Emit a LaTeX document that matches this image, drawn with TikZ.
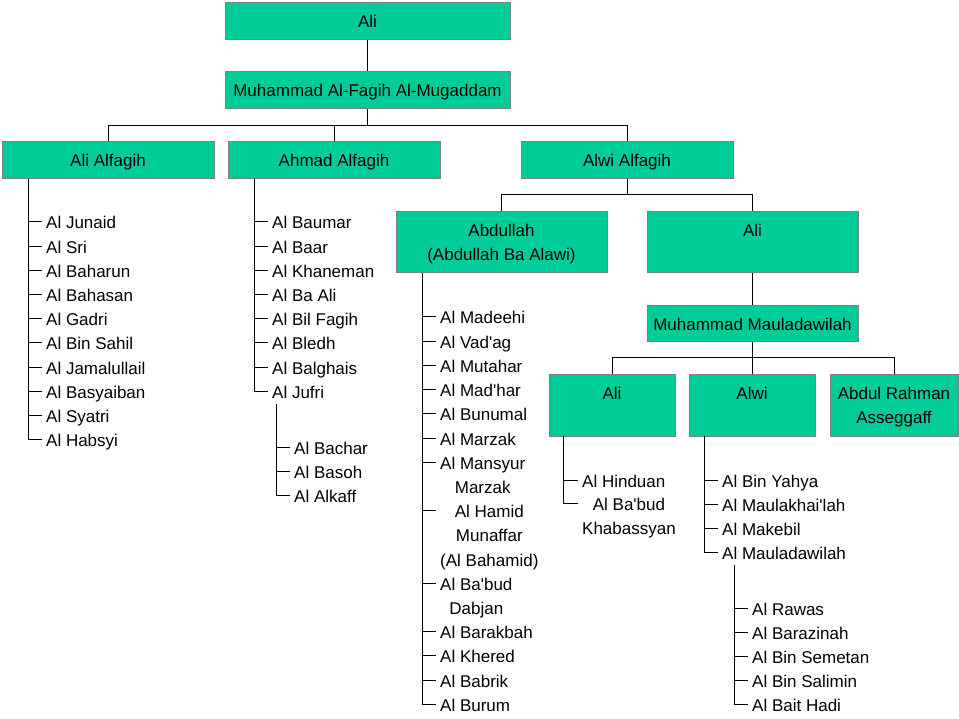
\documentclass[tikz,border=0pt]{standalone}
\usepackage{fontspec}
\setmainfont{Liberation Sans}[Ligatures=TeXOff]
\usetikzlibrary{positioning}
\definecolor{boxgreen}{RGB}{0,204,153}
% centred lines, baseline on the first one
\newcommand\stk[1]{\vtop{\halign{\hfil##\hfil\cr#1\crcr}}}

\begin{document}
\begin{tikzpicture}[x=1pt, y=-1pt,
    every node/.style={font=\fontsize{17}{24.2}\selectfont},
    bx/.style={rectangle, draw=gray, fill=boxgreen, line width=1pt, inner sep=0pt,
               text height=12.5pt, text depth=0pt, minimum height=37pt},
    tall/.style={text height=24.5pt, text depth=36.5pt, minimum height=61pt},
    it/.style={anchor=west, inner sep=0pt, text height=14pt, text depth=0pt},
    ln/.style={line width=1pt},
    tk/.style={line width=1pt, shorten >=4pt},
  ]
  \useasboundingbox (0,0) rectangle (959,719);
  % boxes
  \node[bx, minimum width=285pt] (ali) at (367.5,21.5) {Ali};
  \node[bx, minimum width=285pt] (mfm) at (367.5,90.5) {Muhammad Al-Fagih Al-Mugaddam};
  \node[bx, minimum width=212pt] (alf) at (108,160.5) {Ali Alfagih};
  \node[bx, minimum width=212pt] (ahf) at (334,160.5) {Ahmad Alfagih};
  \node[bx, minimum width=212pt] (awf) at (627,160.5) {Alwi Alfagih};
  \node[bx, tall, minimum width=211pt] (abd) at (501.5,242.5) {\stk{Abdullah\cr(Abdullah Ba Alawi)}};
  \node[bx, tall, minimum width=211pt] (ali2) at (752.5,242.5) {Ali};
  \node[bx, minimum width=211pt, minimum height=36pt] (mmd) at (752.5,324) {Muhammad Mauladawilah};
  \node[bx, tall, minimum width=126pt] (ali3) at (612,405.5) {Ali};
  \node[bx, tall, minimum width=126pt] (alw) at (752,405.5) {Alwi};
  \node[bx, tall, minimum width=128pt] (asg) at (894,405.5) {\stk{Abdul Rahman\cr Asseggaff}};
  % tree lines
  \coordinate (bus1) at (367.5,126);
  \coordinate (bus2) at (627,195);
  \coordinate (bus3) at (752.5,358);
  \draw[ln] (ali) -- (mfm);
  \draw[ln] (mfm) -- (bus1);
  \draw[ln] (alf) -- (alf |- bus1) -- (awf |- bus1) -- (awf);
  \draw[ln] (ahf) -- (ahf |- bus1);
  \draw[ln] (awf) -- (bus2);
  \draw[ln] (abd) -- (abd |- bus2) -- (ali2 |- bus2) -- (ali2);
  \draw[ln] (ali2) -- (mmd);
  \draw[ln] (mmd) -- (bus3);
  \draw[ln] (ali3) -- (ali3 |- bus3) -- (asg |- bus3) -- (asg);
  \draw[ln] (alw) -- (alw |- bus3);
  % Ali Alfagih
  \coordinate (alfsp) at (28,179);
  \foreach \t [count=\i] in {Al Junaid, Al Sri, Al Baharun, Al Bahasan, Al Gadri,
      Al Bin Sahil, Al Jamalullail, Al Basyaiban, Al Syatri, Al Habsyi}
    \node[it] (lf\i) at (46,{197.8+24.2*\i}) {\t};
  \draw[ln] (alfsp) -- (lf10.west -| alfsp);
  \foreach \i in {1,...,10}
    \draw[tk] (lf\i.west -| alfsp) -- (lf\i.west);
  % Ahmad Alfagih
  \coordinate (ahfsp) at (254,179);
  \foreach \t [count=\i] in {Al Baumar, Al Baar, Al Khaneman, Al Ba Ali, Al Bil Fagih,
      Al Bledh, Al Balghais, Al Jufri}
    \node[it] (hf\i) at (272,{197.8+24.2*\i}) {\t};
  \draw[ln] (ahfsp) -- (hf8.west -| ahfsp);
  \foreach \i in {1,...,8}
    \draw[tk] (hf\i.west -| ahfsp) -- (hf\i.west);
  % Al Jufri
  \coordinate (jfsp) at (276,404);
  \foreach \t [count=\i] in {Al Bachar, Al Basoh, Al Alkaff}
    \node[it] (jf\i) at (294,{422.8+24.2*\i}) {\t};
  \draw[ln] (jfsp) -- (jf3.west -| jfsp);
  \foreach \i in {1,...,3}
    \draw[tk] (jf\i.west -| jfsp) -- (jf\i.west);
  % Abdullah
  \coordinate (abdsp) at (422,273);
  \foreach \t/\yy [count=\i] in {Al Madeehi/317, Al Vad'ag/341.2, Al Mutahar/365.4,
      Al Mad'har/389.6, Al Bunumal/413.8, Al Marzak/438, {\stk{Al Mansyur\cr Marzak}}/462.2,
      {\stk{Al Hamid\cr Munaffar\cr(Al Bahamid)}}/510.6, {\stk{Al Ba'bud\cr Dabjan}}/583.2,
      Al Barakbah/631.6, Al Khered/655.8, Al Babrik/680, Al Burum/704.2}
    \node[it] (bd\i) at (440,\yy) {\t};
  \draw[ln] (abdsp) -- (bd13.west -| abdsp);
  \foreach \i in {1,...,13}
    \draw[tk] (bd\i.west -| abdsp) -- (bd\i.west);
  % Ali (son of Muhammad Mauladawilah)
  \coordinate (ali3sp) at (563,436);
  \node[it] (li1) at (582,480) {Al Hinduan};
  \node[it] (li2) at (582,503.5) {\stk{Al Ba'bud\cr Khabassyan}};
  \draw[ln] (ali3sp) -- (li2.west -| ali3sp);
  \draw[tk] (li1.west -| ali3sp) -- (li1.west);
  \draw[tk] (li2.west -| ali3sp) -- (li2.west);
  % Alwi
  \coordinate (alwsp) at (704,436);
  \foreach \t [count=\i] in {Al Bin Yahya, Al Maulakhai'lah, Al Makebil, Al Mauladawilah}
    \node[it] (wi\i) at (722,{455.8+24.2*\i}) {\t};
  \draw[ln] (alwsp) -- (wi4.west -| alwsp);
  \foreach \i in {1,...,4}
    \draw[tk] (wi\i.west -| alwsp) -- (wi\i.west);
  % Al Mauladawilah
  \coordinate (mdsp) at (734,565);
  \foreach \t [count=\i] in {Al Rawas, Al Barazinah, Al Bin Semetan, Al Bin Salimin, Al Bait Hadi}
    \node[it] (md\i) at (752,{583.8+24.2*\i}) {\t};
  \draw[ln] (mdsp) -- (md5.west -| mdsp);
  \foreach \i in {1,...,5}
    \draw[tk] (md\i.west -| mdsp) -- (md\i.west);
\end{tikzpicture}
\end{document}
